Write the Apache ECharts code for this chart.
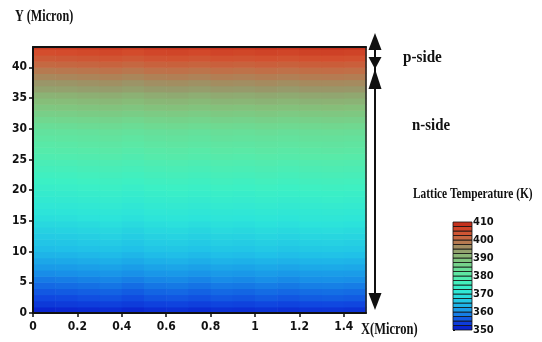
<!DOCTYPE html>
<html>
<head>
<meta charset="utf-8">
<script src="https://cdn.jsdelivr.net/npm/echarts@6/dist/echarts.min.js"></script>
<style>
  html, body { margin: 0; padding: 0; background: #fff; }
  #chart { width: 542px; height: 342px; }
</style>
</head>
<body>
<div id="chart"></div>
<script>
// lattice temperature (K) per 1-micron row, bottom (y=0) to top
const rowTemps = [
    352, 354, 355.5, 356.7, 357.9, 359.1, 360.4, 361.7, 363, 364.3,
    365.4, 366.3, 367.1, 368, 368.9, 369.9, 370.8, 371.7, 372.6, 373.5,
    374.5, 375.4, 376.3, 377.2, 378.1, 379.1, 380, 380.9, 381.8, 382.7,
    384.2, 385.8, 387.5, 389.2, 390.8, 392.2, 394.3, 395.8, 397.6, 399.4,
    401.6, 403.7, 405.5, 408
];
// small left/right differences read across the 0.1-micron columns
const colOffsets = [-0.6, -0.4, -0.1, 0.2, -0.3, 0.3, 0.5, 0.1, 0.6, 0.4, 0.8, 0.5, 0.9, 1.0, 0.8];
const colWidth = 0.1;
const rowHeight = 1;
const xMax = 1.5;
const yMax = 43.3;

// colour scale 350..410 K, one colour every 5 K
const tempMin = 350;
const tempMax = 410;
const scaleColors = [
    "#0818c8", "#1048e0", "#1890e8", "#20c0e8", "#2ce4da", "#3cf0c4", "#58eaa8",
    "#70d890", "#85c07a", "#98986a", "#c07048", "#d44c2c", "#c02818"
];
const barStep = 2.5;

const serif = "'Liberation Serif', 'Times New Roman', serif";
const narrow = "'Liberation Sans Narrow', 'DejaVu Sans Condensed', 'Liberation Sans', sans-serif";

const chart = echarts.init(document.getElementById("chart"));

// build heat cells [x0, y0, temp, w, h]
const cells = [];
for (let j = 0; j < rowTemps.length; j++) {
    const y0 = j * rowHeight;
    const h = Math.min(y0 + rowHeight, yMax) - y0;
    for (let i = 0; i < colOffsets.length; i++) {
        cells.push([i * colWidth, y0, rowTemps[j] + colOffsets[i], colWidth, h]);
    }
}

// colour bar bands [0, lo, mid, hi]
const bands = [];
for (let t = tempMin; t < tempMax; t += barStep) {
    bands.push([0, t, t + barStep / 2, t + barStep]);
}

function renderCell(params, api) {
    const x0 = api.value(0), y0 = api.value(1);
    const p0 = api.coord([x0, y0 + api.value(4)]);
    const p1 = api.coord([x0 + api.value(3), y0]);
    return {
        type: "rect",
        shape: { x: p0[0], y: p0[1], width: p1[0] - p0[0] + 0.6, height: p1[1] - p0[1] + 0.6 },
        style: { fill: api.visual("color") }
    };
}

function renderBand(params, api) {
    const p0 = api.coord([0, api.value(3)]);
    const p1 = api.coord([1, api.value(1)]);
    return {
        type: "rect",
        shape: { x: p0[0], y: p0[1], width: p1[0] - p0[0], height: p1[1] - p0[1] },
        style: { fill: api.visual("color"), stroke: "#111", lineWidth: 0.8 }
    };
}

const frameLine = { show: true, onZero: false, lineStyle: { color: "#111", width: 2 } };
const tickLabel = { fontFamily: narrow, fontWeight: "bold", fontSize: 12, color: "#111" };

const option = {
    backgroundColor: "#fff",
    animation: false,
    grid: [
        { left: 33, top: 47, width: 333, height: 266 },
        { left: 453, top: 222, width: 19, height: 108 }
    ],
    visualMap: {
        show: false,
        type: "continuous",
        min: tempMin,
        max: tempMax,
        dimension: 2,
        seriesIndex: [0, 1],
        inRange: { color: scaleColors }
    },
    xAxis: [
        {
            type: "value", gridIndex: 0, min: 0, max: xMax, interval: 0.2, z: 5,
            axisLine: frameLine,
            axisTick: { show: true, length: 4, lineStyle: { color: "#111", width: 1.5 } },
            axisLabel: Object.assign({ margin: 8, showMaxLabel: false }, tickLabel),
            splitLine: { show: false }
        },
        {
            type: "value", gridIndex: 0, position: "top", min: 0, max: xMax, z: 5,
            axisLine: frameLine, axisTick: { show: false }, axisLabel: { show: false },
            splitLine: { show: false }
        },
        {
            type: "value", gridIndex: 1, min: 0, max: 1, show: false
        }
    ],
    yAxis: [
        {
            type: "value", gridIndex: 0, min: 0, max: yMax, interval: 5, z: 5,
            axisLine: frameLine,
            axisTick: { show: true, length: 4, lineStyle: { color: "#111", width: 1.5 } },
            axisLabel: Object.assign({
                margin: 6, showMaxLabel: false,
                formatter: (v) => (v % 5 === 0 ? String(v) : "")
            }, tickLabel),
            splitLine: { show: false }
        },
        {
            type: "value", gridIndex: 0, position: "right", min: 0, max: yMax, z: 5,
            axisLine: { show: true, onZero: false, lineStyle: { color: "#222", width: 1.5 } },
            axisTick: { show: false }, axisLabel: { show: false },
            splitLine: { show: false }
        },
        {
            type: "value", gridIndex: 1, position: "right", min: tempMin, max: tempMax, interval: 10,
            axisLine: { show: false },
            axisTick: { show: true, length: 2, lineStyle: { color: "#111", width: 1 } },
            axisLabel: Object.assign({}, tickLabel, { margin: 1, fontSize: 11 }),
            splitLine: { show: false }
        }
    ],
    series: [
        {
            type: "custom",
            xAxisIndex: 0,
            yAxisIndex: 0,
            renderItem: renderCell,
            data: cells,
            z: 1
        },
        {
            type: "custom",
            xAxisIndex: 2,
            yAxisIndex: 2,
            renderItem: renderBand,
            data: bands
        }
    ],
    graphic: [
        {
            type: "text", left: 15, top: 9, scaleX: 0.76,
            style: { text: "Y (Micron)", font: "bold 16px " + serif, fill: "#111" }
        },
        {
            type: "text", left: 361, top: 322, scaleX: 0.78,
            style: { text: "X(Micron)", font: "bold 16px " + serif, fill: "#111" }
        },
        {
            type: "text", left: 403, top: 50, scaleX: 0.95,
            style: { text: "p-side", font: "bold 16px " + serif, fill: "#111" }
        },
        {
            type: "text", left: 412, top: 118, scaleX: 0.93,
            style: { text: "n-side", font: "bold 16px " + serif, fill: "#111" }
        },
        {
            type: "text", left: 413, top: 187, scaleX: 0.76,
            style: { text: "Lattice Temperature (K)", font: "bold 15px " + serif, fill: "#111" }
        },
        // p/n extent arrows
        {
            type: "line",
            shape: { x1: 375, y1: 40, x2: 375, y2: 300 },
            style: { stroke: "#111", lineWidth: 2 }
        },
        {
            type: "polygon",
            shape: { points: [[375, 33], [368.5, 50], [381.5, 50]] },
            style: { fill: "#111" }
        },
        {
            type: "polygon",
            shape: { points: [[368.5, 57], [381.5, 57], [375, 69]] },
            style: { fill: "#111" }
        },
        {
            type: "polygon",
            shape: { points: [[375, 69], [368.5, 89], [381.5, 89]] },
            style: { fill: "#111" }
        },
        {
            type: "polygon",
            shape: { points: [[368.5, 293], [381.5, 293], [375, 310]] },
            style: { fill: "#111" }
        }
    ]
};

chart.setOption(option);
</script>
</body>
</html>
